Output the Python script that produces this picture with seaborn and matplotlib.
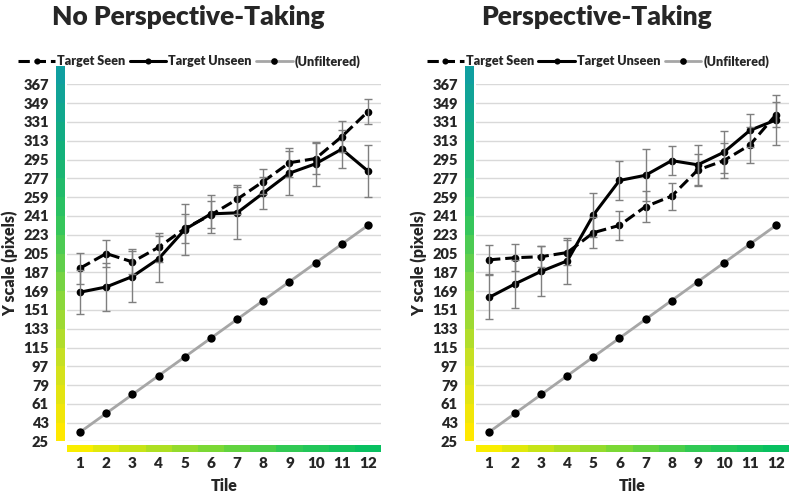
import numpy as np
import matplotlib
matplotlib.use("Agg")
import matplotlib.pyplot as plt
import seaborn as sns
from matplotlib.colors import LinearSegmentedColormap
from matplotlib.patches import Rectangle

# data
tiles = [1, 2, 3, 4, 5, 6, 7, 8, 9, 10, 11, 12]
unfiltered = [34, 52, 70, 88, 106, 124, 142, 160, 178, 196, 214, 232]

# No Perspective-Taking
npt_seen = [191, 205, 197, 211, 229, 242, 257, 274, 292, 296, 317, 341]
npt_seen_err = [15, 13, 12, 14, 14, 13, 14, 12, 14, 15, 15, 12]
npt_unseen = [168, 173, 183, 200, 228, 243, 244, 263, 282, 291, 305, 284]
npt_unseen_err = [21, 23, 24, 22, 24, 18, 25, 15, 21, 21, 18, 25]

# Perspective-Taking
pt_seen = [199, 201, 202, 206, 225, 232, 250, 260, 285, 294, 309, 338]
pt_seen_err = [14, 13, 10, 12, 15, 14, 15, 13, 15, 17, 17, 12]
pt_unseen = [163, 176, 188, 198, 242, 275, 280, 294, 290, 302, 323, 333]
pt_unseen_err = [21, 23, 24, 22, 21, 19, 25, 14, 19, 20, 16, 24]

titles = ["No Perspective-Taking", "Perspective-Taking"]
y_ticks = np.arange(25, 368, 18)

sns.set_theme(style="white")
plt.rcParams['font.family'] = ['Lato', 'DejaVu Sans']
W = 'heavy'

ycmap = LinearSegmentedColormap.from_list(
    "ystrip", ['#FFE800', '#C9E022', '#7ED640', '#2EC45E', '#12B07C', '#109FA0'])
xcmap = LinearSegmentedColormap.from_list(
    "xstrip", ['#FAEE00', '#B4E020', '#6ED63A', '#2CC856', '#08C060'])

fig = plt.figure(figsize=(7.93, 4.98), dpi=100)
ax_left = fig.add_axes([0.0845, 0.1135, 0.396, 0.717])
ax_right = fig.add_axes([0.6003, 0.1135, 0.3947, 0.717])

panels = [
    (ax_left, npt_seen, npt_seen_err, npt_unseen, npt_unseen_err),
    (ax_right, pt_seen, pt_seen_err, pt_unseen, pt_unseen_err),
]

for ax, seen, seen_err, unseen, unseen_err in panels:
    sns.lineplot(x=tiles, y=unfiltered, ax=ax, color='#A6A6A6', lw=2,
                 marker='o', markersize=6, markerfacecolor='black',
                 markeredgewidth=0, label='(Unfiltered)', zorder=2)
    sns.lineplot(x=tiles, y=seen, ax=ax, color='black', lw=2.2,
                 linestyle='--', marker='o', markersize=5.5,
                 markeredgewidth=0, label='Target Seen', zorder=3)
    sns.lineplot(x=tiles, y=unseen, ax=ax, color='black', lw=2.2,
                 marker='o', markersize=5.5, markeredgewidth=0,
                 label='Target Unseen', zorder=3)
    ax.errorbar(tiles, seen, yerr=seen_err, fmt='none', ecolor='#7F7F7F',
                elinewidth=1, capsize=3, capthick=1, zorder=4)
    ax.errorbar(tiles, unseen, yerr=unseen_err, fmt='none', ecolor='#7F7F7F',
                elinewidth=1, capsize=3, capthick=1, zorder=4)

    ax.set_xlim(0.5, 12.5)
    ax.set_ylim(25, 367)
    ax.set_yticks(y_ticks)
    ax.set_xticks(tiles)
    ax.set_yticklabels([str(t) for t in y_ticks], fontsize=10.5, fontweight=W)
    ax.set_xticklabels([str(t) for t in tiles], fontsize=11, fontweight=W)
    ax.tick_params(axis='y', length=0, pad=13)
    ax.tick_params(axis='x', length=0, pad=11)
    ax.grid(axis='y', color='#D9D9D9', lw=1)
    ax.set_axisbelow(True)
    for s in ax.spines.values():
        s.set_visible(False)
    ax.set_xlabel('Tile', fontsize=11.5, fontweight=W, labelpad=6)
    ax.set_ylabel('Y scale (pixels)', fontsize=11.5, fontweight=W, labelpad=4)

    # vertical colour strip next to the y ticks
    n_seg = len(y_ticks)
    for k in range(n_seg):
        y0 = 25 + 18 * k
        ax.add_patch(Rectangle((-0.036, (y0 - 25) / 342), 0.029, 18 / 342,
                               transform=ax.transAxes, color=ycmap(k / (n_seg - 1)),
                               clip_on=False, lw=0))
    # horizontal colour strip under the x axis
    for k in range(12):
        ax.add_patch(Rectangle((k / 12, -0.03), 1 / 12, 0.02,
                               transform=ax.transAxes, color=xcmap(k / 11),
                               clip_on=False, lw=0))

    handles, labels = ax.get_legend_handles_labels()
    order = [labels.index('Target Seen'), labels.index('Target Unseen'),
             labels.index('(Unfiltered)')]
    ax.legend([handles[j] for j in order], [labels[j] for j in order],
              loc='center', bbox_to_anchor=(0.39, 1.065), ncol=3, frameon=False,
              handlelength=2.9, handletextpad=0.15, columnspacing=0.35,
              markerscale=0.8, prop={'weight': W, 'size': 9.1})

fig.text(0.238, 0.965, titles[0], ha='center', va='center', fontsize=19,
         fontweight=W)
fig.text(0.752, 0.965, titles[1], ha='center', va='center', fontsize=19,
         fontweight=W)

fig.savefig('out.png', dpi=100)
